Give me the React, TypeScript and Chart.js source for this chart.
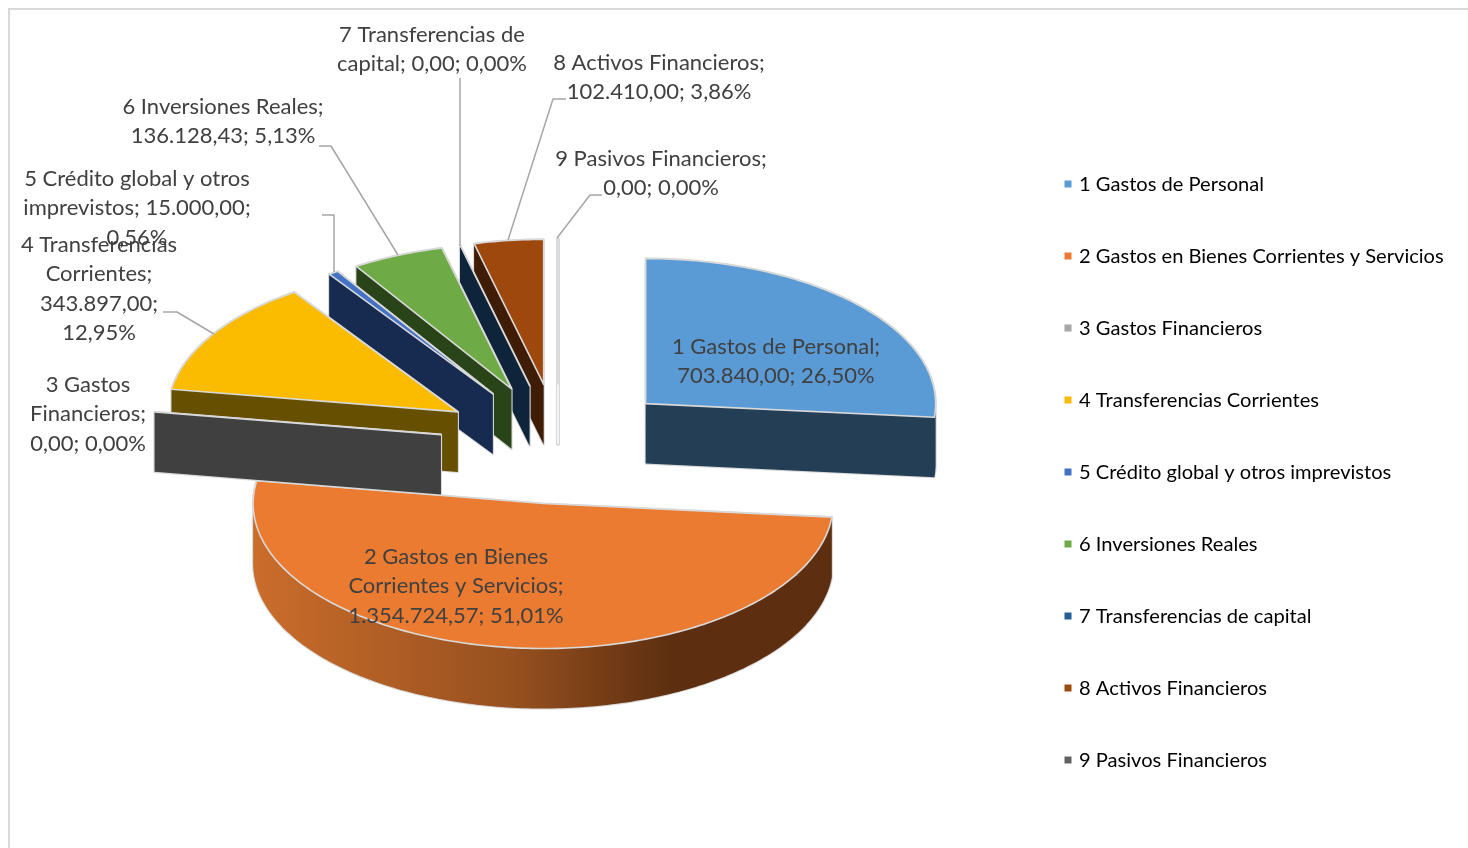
import React, { useEffect, useRef } from "react";
import { Chart, registerables } from "chart.js";

Chart.register(...registerables);

const categories = [
  "1 Gastos de Personal",
  "2 Gastos en Bienes Corrientes y Servicios",
  "3 Gastos Financieros",
  "4 Transferencias Corrientes",
  "5 Crédito global y otros imprevistos",
  "6 Inversiones Reales",
  "7 Transferencias de capital",
  "8 Activos Financieros",
  "9 Pasivos Financieros",
];
const values = [703840.0, 1354724.57, 0, 343897.0, 15000.0, 136128.43, 0, 102410.0, 0];
const topColors = ["#5B9BD5", "#EB7B30", "#A5A5A5", "#FBBC00", "#4472C4", "#6EAB46", "#255E91", "#9E480E", "#636363"];
const wallColors = ["#243E56", "", "#404040", "#665000", "#172A4F", "#2A441A", "#0E243A", "#3F1C05", "#F7F7F7"];
const drawOrder = [0, 1, 8, 7, 6, 5, 4, 3, 2];

const labelLines = [
  ["1 Gastos de Personal;", "703.840,00; 26,50%"],
  ["2 Gastos en Bienes", "Corrientes y Servicios;", "1.354.724,57; 51,01%"],
  ["3 Gastos", "Financieros;", "0,00; 0,00%"],
  ["4 Transferencias", "Corrientes;", "343.897,00;", "12,95%"],
  ["5 Crédito global y otros", "imprevistos; 15.000,00;", "0,56%"],
  ["6 Inversiones Reales;", "136.128,43; 5,13%"],
  ["7 Transferencias de", "capital; 0,00; 0,00%"],
  ["8 Activos Financieros;", "102.410,00; 3,86%"],
  ["9 Pasivos Financieros;", "0,00; 0,00%"],
];
const labelAnchors = [
  [776, 346.7], [456, 556.7], [88, 384.7], [99, 244.7], [137, 178.7], [223, 106.7], [432, 34.7], [659, 62.7], [661, 158.7],
];
const labelLineGap = 29.5;
const leaders = [
  [[163, 312], [177, 312], [214, 334]],
  [[322, 215], [334, 215], [334, 272]],
  [[319, 146], [331, 146], [398, 255]],
  [[460, 78], [460, 246]],
  [[566, 99], [553, 99], [508, 240]],
  [[602, 195], [590, 195], [557, 238]],
];

const CX = 558;
const CY = 444;
const RADIUS = 290;
const SQUISH = 0.5;
const EXPLODE_X = 118.5;
const EXPLODE_Y = 60;
const DEPTH = 60;
const FONT = "Lato";
const LEGEND_SIZE = 20.1;
const LABEL_SIZE = 22;
const EDGE = "#D9D9D9";
const TEXT = "#404040";

function apexOf(arc: any) {
  const mid = (arc.startAngle + arc.endAngle) / 2;
  return [CX + Math.cos(mid) * EXPLODE_X, CY + Math.sin(mid) * EXPLODE_Y];
}

function outlineOf(arc: any) {
  const [ax, ay] = apexOf(arc);
  const pts: number[][] = [[ax, ay]];
  const span = arc.endAngle - arc.startAngle;
  const steps = Math.max(1, Math.ceil(span / (Math.PI / 180)));
  for (let k = 0; k <= steps; k++) {
    const t = arc.startAngle + (span * k) / steps;
    pts.push([ax + Math.cos(t) * arc.outerRadius, ay + Math.sin(t) * arc.outerRadius * SQUISH]);
  }
  return pts;
}

// One path holding every wall quad, all wound the same way, so that a nonzero fill paints their union without seams.
function wallPath(ctx: CanvasRenderingContext2D, pts: number[][]) {
  ctx.beginPath();
  for (let k = 0; k < pts.length; k++) {
    let a = pts[k];
    let b = pts[(k + 1) % pts.length];
    if (b[0] < a[0]) [a, b] = [b, a];
    ctx.moveTo(a[0], a[1]);
    ctx.lineTo(b[0], b[1]);
    ctx.lineTo(b[0], b[1] + DEPTH);
    ctx.lineTo(a[0], a[1] + DEPTH);
    ctx.closePath();
  }
}

const pie3d = {
  id: "pie3d",
  beforeDatasetsDraw(chart: any) {
    const ctx: CanvasRenderingContext2D = chart.ctx;
    const arcs = chart.getDatasetMeta(0).data;

    ctx.save();
    ctx.strokeStyle = EDGE;
    ctx.lineWidth = 2;
    ctx.beginPath();
    ctx.moveTo(9, 848);
    ctx.lineTo(9, 9);
    ctx.lineTo(1468, 9);
    ctx.stroke();

    const sideGradient = ctx.createLinearGradient(253, 0, 832, 0);
    sideGradient.addColorStop(0, "#CB6D2B");
    sideGradient.addColorStop(0.45, "#96501F");
    sideGradient.addColorStop(0.72, "#5D2F10");
    sideGradient.addColorStop(1, "#5D2F10");

    ctx.lineJoin = "round";
    for (const i of drawOrder) {
      const arc = arcs[i];
      const pts = outlineOf(arc);
      const wall: any = i === 1 ? sideGradient : wallColors[i];
      const isZero = arc.endAngle - arc.startAngle === 0;

      wallPath(ctx, pts);
      ctx.strokeStyle = i === 8 ? "#CFCFCF" : EDGE;
      ctx.lineWidth = i === 8 ? 3.6 : 2.2;
      ctx.stroke();
      ctx.fillStyle = wall;
      ctx.fill("nonzero");
      if (i === 8) {
        ctx.strokeStyle = wall;
        ctx.lineWidth = 1;
        ctx.stroke();
      }

      if (!isZero) {
        const [ax, ay] = apexOf(arc);
        ctx.save();
        ctx.translate(ax, ay);
        ctx.scale(1, SQUISH);
        ctx.translate(-arc.x, -arc.y);
        arc.draw(ctx);
        ctx.restore();
      }

      ctx.beginPath();
      pts.forEach(([x, y], k) => (k ? ctx.lineTo(x, y) : ctx.moveTo(x, y)));
      ctx.closePath();
      ctx.strokeStyle = EDGE;
      ctx.lineWidth = 1.6;
      ctx.stroke();
    }

    ctx.strokeStyle = "#A6A6A6";
    ctx.lineWidth = 1.5;
    for (const pts of leaders) {
      ctx.beginPath();
      pts.forEach(([x, y], k) => (k ? ctx.lineTo(x, y) : ctx.moveTo(x, y)));
      ctx.stroke();
    }

    ctx.fillStyle = TEXT;
    ctx.font = `${LABEL_SIZE}px ${FONT}`;
    ctx.textAlign = "center";
    ctx.textBaseline = "middle";
    labelLines.forEach((lines, i) => {
      const [x, y] = labelAnchors[i];
      lines.forEach((line, k) => ctx.fillText(line, x, y + k * labelLineGap));
    });
    ctx.restore();
    return false;
  },
};

const placeLegend = {
  id: "placeLegend",
  afterLayout(chart: any) {
    const legend = chart.legend;
    const pad = legend.options.labels.padding;
    const w = legend.width;
    const h = legend.height;
    legend.left = 1067 - pad;
    legend.right = legend.left + w;
    legend.top = 174 - pad;
    legend.bottom = legend.top + h;
  },
};

export default function App() {
  const ref = useRef<HTMLCanvasElement>(null);
  useEffect(() => {
    const chart = new Chart(ref.current as HTMLCanvasElement, {
      type: "pie",
      data: {
        labels: categories,
        datasets: [{ data: values, backgroundColor: topColors, borderWidth: 0, offset: 0, clip: false } as any],
      },
      options: {
        responsive: false,
        animation: false,
        radius: RADIUS,
        plugins: {
          tooltip: { enabled: false },
          legend: {
            position: "right",
            align: "start",
            labels: {
              color: TEXT,
              font: { family: FONT, size: LEGEND_SIZE },
              boxWidth: 2,
              boxHeight: 2,
              padding: 72 - LEGEND_SIZE,
              generateLabels: () =>
                categories.map((text, index) => ({
                  text,
                  index,
                  fillStyle: topColors[index],
                  strokeStyle: topColors[index],
                  lineWidth: 5,
                  hidden: false,
                })),
            },
          },
        },
      } as any,
      plugins: [pie3d, placeLegend],
    });
    return () => chart.destroy();
  }, []);
  return (
    <div style={{ position: "fixed", left: 0, top: 0, width: 1468, height: 848, background: "#fff" }}>
      <canvas ref={ref} width={1468} height={848} style={{ display: "block" }} />
    </div>
  );
}
